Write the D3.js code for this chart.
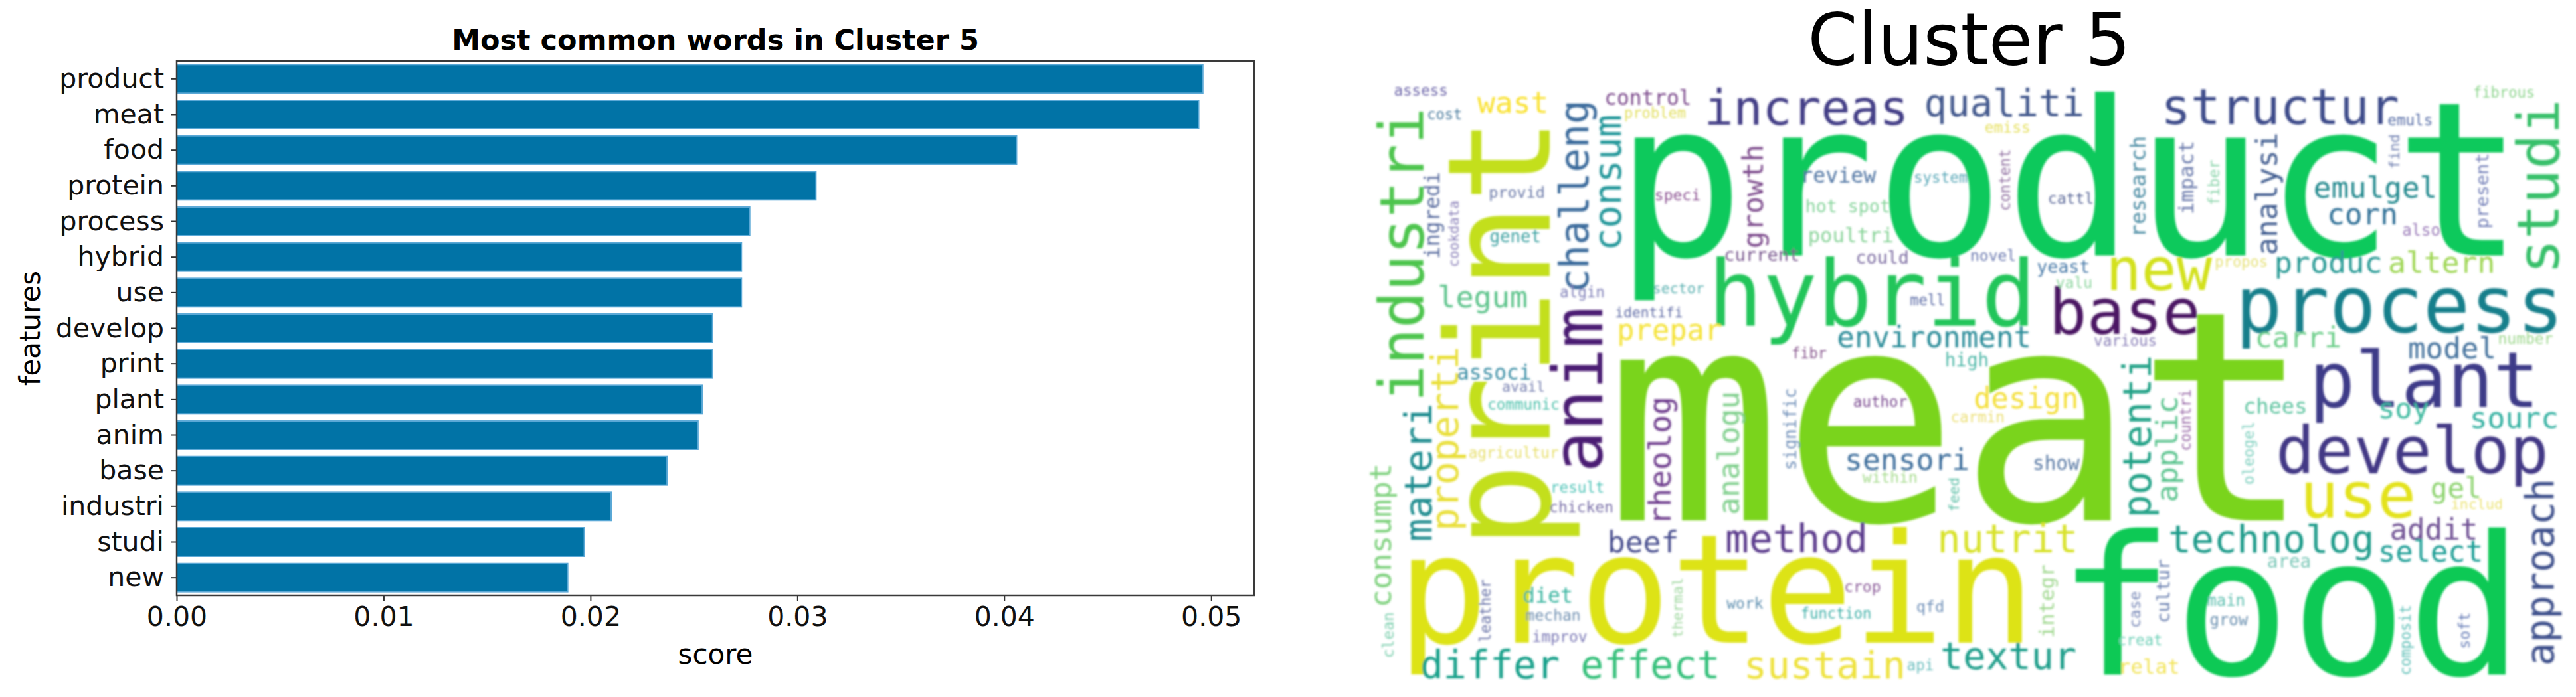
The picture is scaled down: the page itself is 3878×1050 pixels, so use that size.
<!DOCTYPE html>
<html>
<head>
<meta charset="utf-8">
<script src="https://cdn.jsdelivr.net/npm/d3@7"></script>
<style>
  body { margin: 0; background: #fff; }
  text { font-family: "DejaVu Sans", sans-serif; }
</style>
</head>
<body>
<svg id="chart" width="3878" height="1050"></svg>
<script>
// bar chart data
const features = ['product', 'meat', 'food', 'protein', 'process', 'hybrid', 'use', 'develop',
  'print', 'plant', 'anim', 'base', 'industri', 'studi', 'new'];
const scores = [0.0496, 0.0494, 0.0406, 0.0309, 0.0277, 0.0273, 0.0273, 0.0259,
  0.0259, 0.0254, 0.0252, 0.0237, 0.0210, 0.0197, 0.0189];
const xTicks = [0, 0.01, 0.02, 0.03, 0.04, 0.05];

// word cloud layout (wordcloud canvas is 400 x 200)
// [word, font size, x, y, vertical, colour]; horizontal: x = centre, y = baseline
// vertical: x = baseline, y = centre
const bigWords = [
  ['meat', 98, 196.5, 145, 0, '#7ad41c'],
  ['product', 72, 233.5, 56.5, 0, '#0fc95b'],
  ['food', 64.6, 307.2, 196.5, 0, '#0ac955'],
  ['protein', 50.5, 115.6, 185.8, 0, '#dde319'],
  ['print', 48, 60.1, 82.4, 1, '#c3df1e'],
  ['hybrid', 30.3, 167.6, 79.8, 0, '#22c55a'],
  ['process', 26, 343.6, 82.0, 0, '#137f8b'],
  ['plant', 25.5, 351.8, 107.1, 0, '#3e3a88'],
  ['develop', 21.6, 347.8, 129.3, 0, '#433985'],
  ['use', 21.5, 329.7, 144.1, 0, '#e3e21c'],
  ['base', 21, 251.9, 82.7, 0, '#4b1564'],
  ['anim', 23, 77.6, 101.3, 1, '#4c1f73'],
  ['industri', 20.4, 18.0, 56.2, 1, '#4dc54e'],
  ['studi', 19.4, 396.7, 33.5, 1, '#37c06a'],
  ['new', 19.6, 263.3, 68.0, 0, '#d3e11c']
];

const midWords = [
  ['structur', 16.5, 303.7, 12.6, 0, '#3e4b8a'],
  ['increas', 16.2, 145.7, 12.9, 0, '#433e86'],
  ['qualiti', 12.7, 211.7, 10.0, 0, '#43598d'],
  ['challeng', 13.4, 72.8, 36.8, 1, '#3a6a9b'],
  ['consum', 12.6, 83.7, 32.2, 1, '#23979a'],
  ['materi', 12.8, 20.6, 129.0, 1, '#1f8c8f'],
  ['properti', 12.8, 29.4, 117.7, 1, '#e9df3a'],
  ['consumpt', 10.0, 7.0, 150.0, 1, '#7fd17e'],
  ['method', 13.2, 142.4, 155.6, 0, '#5d3e8e'],
  ['nutrit', 13.0, 212.8, 155.6, 0, '#d8e22c'],
  ['technolog', 12.7, 300.8, 155.6, 0, '#1f9b8a'],
  ['textur', 12.6, 213.1, 194.7, 0, '#1d9e8a'],
  ['differ', 12.9, 40.1, 197.7, 0, '#16a08a'],
  ['effect', 12.9, 93.6, 197.7, 0, '#35c07a'],
  ['sustain', 12.8, 151.8, 197.7, 0, '#eee23e'],
  ['approach', 13.0, 395.0, 162.3, 1, '#3d4f8b'],
  ['potenti', 12.9, 260.6, 117.0, 1, '#20a287'],
  ['rheolog', 10.2, 100.4, 125.1, 1, '#6d3b8c'],
  ['analogu', 9.8, 123.2, 122.5, 1, '#7fcf8c'],
  ['applic', 9.8, 269.5, 121.2, 1, '#5ec591'],
  ['analysi', 9.7, 302.7, 35.9, 1, '#3f5c8f'],
  ['growth', 9.6, 131.1, 36.8, 1, '#7f4e8e'],
  ['environment', 9.8, 188.3, 87.2, 0, '#2b8c99'],
  ['sensori', 9.9, 179.3, 128.2, 0, '#3e6e9c'],
  ['design', 9.7, 219.0, 107.5, 0, '#f4df3a'],
  ['beef', 9.9, 91.2, 155.6, 0, '#4a4f8f'],
  ['legum', 10.0, 37.7, 73.9, 0, '#5cc38a'],
  ['prepar', 9.7, 100.0, 84.6, 0, '#f5e33a'],
  ['wast', 9.9, 47.8, 8.9, 0, '#f9e12e'],
  ['emulgel', 9.8, 335.5, 37.3, 0, '#23898e'],
  ['corn', 9.8, 331.2, 46.2, 0, '#2f6f96'],
  ['produc', 10.0, 319.8, 62.4, 0, '#2b9b96'],
  ['altern', 9.9, 357.6, 62.4, 0, '#a0d757'],
  ['carri', 9.6, 309.8, 87.2, 0, '#70cf8c'],
  ['model', 9.8, 361.1, 90.9, 0, '#44729d'],
  ['soy', 9.5, 344.9, 110.9, 0, '#3fbaa0'],
  ['sourc', 9.9, 381.8, 114.2, 0, '#34b1a2'],
  ['gel', 9.5, 362.4, 137.5, 0, '#8fd471'],
  ['addit', 9.8, 355.0, 151.5, 0, '#6e4f93'],
  ['select', 9.7, 353.9, 158.7, 0, '#1f9e95']
];

const smallWords = [
  ['assess', 5.0, 17.1, 3.0, 0, '#6b63a8'],
  ['cost', 4.9, 25.0, 11.1, 0, '#4f7fa0'],
  ['control', 6.9, 92.8, 6.3, 0, '#7c4a8c'],
  ['problem', 4.9, 95.2, 10.7, 0, '#e2df5e'],
  ['emiss', 5.1, 212.8, 15.5, 0, '#e6e060'],
  ['emuls', 5.0, 347.1, 13.0, 0, '#5a70a8'],
  ['fibrous', 4.9, 378.4, 3.7, 0, '#8fd68f'],
  ['review', 7.0, 156.3, 32.1, 0, '#4f74a3'],
  ['system', 5.0, 190.5, 32.1, 0, '#5aa8b8'],
  ['content', 4.9, 213.7, 31.3, 1, '#9070a0'],
  ['research', 7.0, 258.9, 33.5, 1, '#4a8ba3'],
  ['impact', 6.8, 274.8, 30.5, 1, '#6a7aac'],
  ['fiber', 5.1, 283.5, 32.2, 1, '#8fd6ae'],
  ['find', 4.8, 343.4, 21.8, 1, '#7080b0'],
  ['present', 6.0, 373.1, 34.9, 1, '#7480b8'],
  ['also', 5.3, 350.8, 49.9, 0, '#9a7ab8'],
  ['provid', 5.2, 49.1, 37.3, 0, '#6a79a8'],
  ['speci', 5.1, 102.7, 38.1, 0, '#8a5090'],
  ['hot spot', 5.9, 159.5, 42.1, 0, '#86d49b'],
  ['cattl', 5.1, 233.9, 39.2, 0, '#5d6a9a'],
  ['ingredi', 6.9, 23.2, 43.1, 1, '#5b6ea0'],
  ['cookdata', 4.6, 29.8, 49.3, 1, '#8a80b8'],
  ['genet', 5.7, 48.6, 52.1, 0, '#3aa0a0'],
  ['poultri', 6.8, 160.5, 52.1, 0, '#8ad49a'],
  ['current', 6.0, 130.8, 58.4, 0, '#7a5a90'],
  ['could', 5.9, 171.0, 59.1, 0, '#7a6aa0'],
  ['novel', 5.1, 208.0, 58.4, 0, '#6c7ab0'],
  ['yeast', 5.9, 231.4, 62.4, 0, '#4a7aa8'],
  ['propos', 4.9, 290.8, 60.2, 0, '#e6e27a'],
  ['valu', 5.1, 235.0, 67.3, 0, '#8fd6a0'],
  ['sector', 4.8, 103.0, 69.1, 0, '#5ab0b0'],
  ['algin', 5.0, 70.9, 70.6, 0, '#8080b8'],
  ['mell', 4.9, 186.1, 73.2, 0, '#6070a8'],
  ['identifi', 4.7, 93.2, 77.2, 0, '#6570a8'],
  ['various', 5.0, 252.1, 86.8, 0, '#8a80b8'],
  ['number', 5.1, 385.6, 86.1, 0, '#a0d890'],
  ['fibr', 4.9, 146.6, 90.9, 0, '#8a5a90'],
  ['high', 6.1, 199.2, 93.5, 0, '#50b8a8'],
  ['associ', 6.9, 41.5, 97.9, 0, '#3b8ea5'],
  ['avail', 4.8, 51.3, 102.0, 0, '#7780b0'],
  ['communic', 5.0, 51.3, 107.9, 0, '#4cc0aa'],
  ['author', 5.0, 170.3, 107.2, 0, '#7a4a90'],
  ['carmin', 5.0, 202.8, 112.3, 0, '#ece07a'],
  ['signific', 5.7, 142.2, 114.5, 1, '#6f8fb8'],
  ['countri', 4.9, 273.9, 111.5, 1, '#9a6aa8'],
  ['chees', 7.1, 302.1, 109.4, 0, '#5ec4a0'],
  ['agricultur', 5.0, 48.0, 124.2, 0, '#e8e070'],
  ['show', 6.5, 229.0, 128.2, 0, '#5a7aa5'],
  ['within', 5.1, 173.6, 132.3, 0, '#a8dc90'],
  ['feed', 4.8, 196.6, 136.4, 1, '#60c0a8'],
  ['oleogel', 5.0, 294.9, 122.5, 1, '#80d0c0'],
  ['includ', 4.8, 369.4, 141.2, 0, '#ece478'],
  ['result', 5.0, 69.3, 135.6, 0, '#50c4b8'],
  ['chicken', 5.1, 70.6, 142.3, 0, '#7a70a8'],
  ['area', 6.1, 306.7, 160.8, 0, '#7cc8b8'],
  ['integr', 6.8, 228.2, 172.0, 1, '#a0d890'],
  ['cultur', 5.9, 266.8, 168.6, 1, '#6a80b0'],
  ['case', 5.1, 257.1, 174.8, 1, '#7a8ab8'],
  ['crop', 5.1, 164.4, 168.9, 0, '#8a5a98'],
  ['diet', 7.0, 59.4, 172.6, 0, '#3ab5a0'],
  ['work', 5.1, 125.2, 174.4, 0, '#6090b0'],
  ['function', 4.9, 155.6, 177.8, 0, '#40b0a8'],
  ['qfd', 5.2, 187.0, 175.5, 0, '#7090b8'],
  ['mechan', 5.1, 61.2, 178.5, 0, '#6f8fb0'],
  ['leather', 5.0, 40.3, 175.2, 1, '#6a74a8'],
  ['improv', 5.1, 63.4, 185.5, 0, '#7a78b5'],
  ['thermal', 4.8, 104.4, 174.2, 1, '#a0d8a0'],
  ['clean', 5.1, 7.9, 183.3, 1, '#80d0b0'],
  ['main', 5.3, 285.7, 173.7, 0, '#60c0b0'],
  ['grow', 5.3, 286.6, 180.0, 0, '#6a90b0'],
  ['creat', 5.0, 257.0, 186.6, 0, '#70d0b8'],
  ['composit', 4.9, 347.3, 185.0, 1, '#60c0b8'],
  ['soft', 5.1, 367.0, 181.8, 1, '#6a80b8'],
  ['api', 5.0, 183.7, 195.1, 0, '#70c0c0'],
  ['relat', 6.8, 260.0, 196.2, 0, '#f2e45a']
];

const svg = d3.select('#chart');

// ---------- bar chart ----------
const margin = { left: 266, right: 1888, top: 92, bottom: 897 };

const x = d3.scaleLinear()
  .domain([0, d3.max(scores) * 1.05])
  .range([margin.left, margin.right]);

const y = d3.scaleBand()
  .domain(features)
  .range([margin.top, margin.bottom])
  .paddingInner(0.2)
  .paddingOuter(0.1);

svg.selectAll('.bar')
  .data(features)
  .enter()
  .append('rect')
  .attr('class', 'bar')
  .attr('x', x(0))
  .attr('y', d => y(d))
  .attr('width', (d, i) => x(scores[i]) - x(0))
  .attr('height', y.bandwidth())
  .attr('fill', '#0173a6')
  .attr('stroke', '#5aa8d6')
  .attr('stroke-width', 2);

const xAxis = svg.append('g')
  .attr('transform', `translate(0,${margin.bottom})`)
  .call(d3.axisBottom(x).tickValues(xTicks).tickFormat(d3.format('.2f')).tickSize(9).tickPadding(8));

const yAxis = svg.append('g')
  .attr('transform', `translate(${margin.left},0)`)
  .call(d3.axisLeft(y).tickSize(9).tickPadding(10));

[xAxis, yAxis].forEach(g => {
  g.select('.domain').remove();
  g.selectAll('line').attr('stroke', '#333').attr('stroke-width', 2);
  g.selectAll('text')
    .attr('fill', '#111')
    .style('font-family', '"DejaVu Sans", sans-serif')
    .style('font-size', '41px');
});

// spines
svg.append('rect')
  .attr('x', margin.left)
  .attr('y', margin.top)
  .attr('width', margin.right - margin.left)
  .attr('height', margin.bottom - margin.top)
  .attr('fill', 'none')
  .attr('stroke', '#3a3a3a')
  .attr('stroke-width', 2.5);

svg.append('text')
  .attr('x', (margin.left + margin.right) / 2)
  .attr('y', 75)
  .attr('text-anchor', 'middle')
  .style('font-size', '43px')
  .style('font-weight', 'bold')
  .text('Most common words in Cluster 5');

svg.append('text')
  .attr('x', (margin.left + margin.right) / 2)
  .attr('y', 1000)
  .attr('text-anchor', 'middle')
  .style('font-size', '42px')
  .text('score');

svg.append('text')
  .attr('transform', `translate(60,${(margin.top + margin.bottom) / 2}) rotate(-90)`)
  .attr('text-anchor', 'middle')
  .style('font-size', '42px')
  .text('features');

// ---------- word cloud ----------
const cx = d3.scaleLinear().domain([0, 400]).range([2062, 3867]);
const cy = d3.scaleLinear().domain([0, 200]).range([130, 1032]);
const k = cx(1) - cx(0);

svg.append('text')
  .attr('x', (cx(0) + cx(400)) / 2)
  .attr('y', 97)
  .attr('text-anchor', 'middle')
  .style('font-size', '108px')
  .text('Cluster 5');

const defs = svg.append('defs');
defs.append('filter')
  .attr('id', 'soft')
  .attr('x', '-5%').attr('y', '-5%')
  .attr('width', '110%').attr('height', '110%')
  .append('feGaussianBlur')
  .attr('stdDeviation', 1.6);

const cloud = svg.append('g').attr('filter', 'url(#soft)');

cloud.selectAll('.word')
  .data(bigWords.concat(midWords, smallWords))
  .enter()
  .append('text')
  .attr('class', 'word')
  .attr('text-anchor', 'middle')
  .attr('transform', d => d[4]
    ? `translate(${cx(d[2])},${cy(d[3])}) rotate(-90)`
    : `translate(${cx(d[2])},${cy(d[3])})`)
  .style('font-family', '"DejaVu Sans Mono", monospace')
  .style('font-size', d => `${d[1] * k}px`)
  .attr('fill', d => d[5])
  .text(d => d[0]);
</script>
</body>
</html>
